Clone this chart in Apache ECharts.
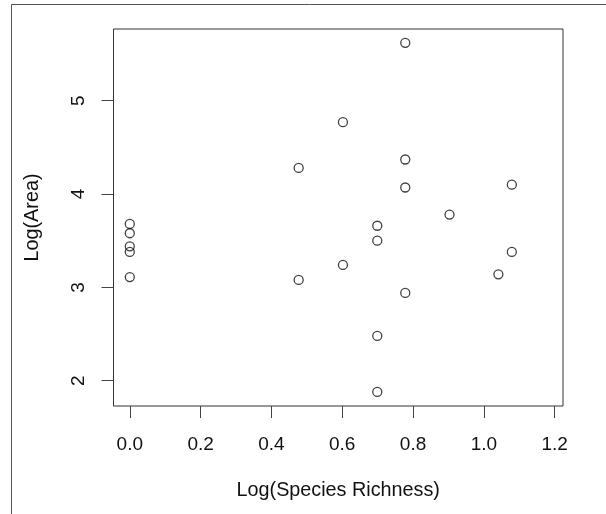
<!DOCTYPE html>
<html>
<head>
<meta charset="utf-8">
<script src="https://cdn.jsdelivr.net/npm/echarts@6/dist/echarts.min.js"></script>
<style>
html, body { margin: 0; padding: 0; background: #fff; }
#chart { width: 606px; height: 514px; }
</style>
</head>
<body>
<div id="chart"></div>
<script>
// Data
const logSpeciesRichness = [0, 0, 0, 0, 0, 0.477, 0.477, 0.602, 0.602, 0.699, 0.699, 0.699, 0.699, 0.778, 0.778, 0.778, 0.778, 0.903, 1.041, 1.079, 1.079];
const logArea = [3.68, 3.58, 3.44, 3.38, 3.11, 4.28, 3.08, 4.77, 3.24, 3.66, 3.50, 2.48, 1.88, 5.62, 4.37, 4.07, 2.94, 3.78, 3.14, 4.10, 3.38];
const xTicks = [0, 0.2, 0.4, 0.6, 0.8, 1.0, 1.2];
const yTicks = [2, 3, 4, 5];
const xTitle = 'Log(Species Richness)';
const yTitle = 'Log(Area)';

const points = logSpeciesRichness.map((x, i) => [x, logArea[i]]);

const font = '"Liberation Sans", Arial, sans-serif';
const chart = echarts.init(document.getElementById('chart'));
chart.setOption({
  animation: false,
  backgroundColor: '#fff',
  grid: {
    left: 113.5, top: 29, right: 43, bottom: 108,
    show: true, borderColor: '#333', borderWidth: 1, backgroundColor: 'transparent'
  },
  graphic: [{
    type: 'rect',
    shape: { x: 11.5, y: 4.5, width: 800, height: 800 },
    style: { fill: 'none', stroke: '#555', lineWidth: 1 },
    silent: true
  }],
  xAxis: {
    type: 'value',
    min: -0.046, max: 1.2235,
    axisLine: { show: false, onZero: false },
    splitLine: { show: false },
    axisTick: { show: true, inside: false, length: 12, customValues: xTicks, lineStyle: { color: '#444', width: 1 } },
    axisLabel: {
      customValues: xTicks, margin: 29,
      fontFamily: font, fontSize: 19, color: '#111',
      formatter: v => v.toFixed(1)
    },
    name: xTitle, nameLocation: 'middle', nameGap: 75,
    nameTextStyle: { fontFamily: font, fontSize: 19.8, color: '#111' }
  },
  yAxis: {
    type: 'value',
    min: 1.729, max: 5.768,
    axisLine: { show: false, onZero: false },
    splitLine: { show: false },
    axisTick: { show: true, inside: false, length: 12, customValues: yTicks, lineStyle: { color: '#444', width: 1 } },
    axisLabel: {
      customValues: yTicks, margin: 25, rotate: 90,
      fontFamily: font, fontSize: 19, color: '#111',
      formatter: v => String(v)
    },
    name: yTitle, nameLocation: 'middle', nameGap: 71, nameRotate: 90,
    nameTextStyle: { fontFamily: font, fontSize: 19.8, color: '#111' }
  },
  series: [{
    type: 'scatter',
    data: points,
    symbol: 'circle',
    symbolSize: 9,
    itemStyle: { color: 'transparent', borderColor: '#111', borderWidth: 1.3 },
    silent: true
  }]
});
</script>
</body>
</html>
